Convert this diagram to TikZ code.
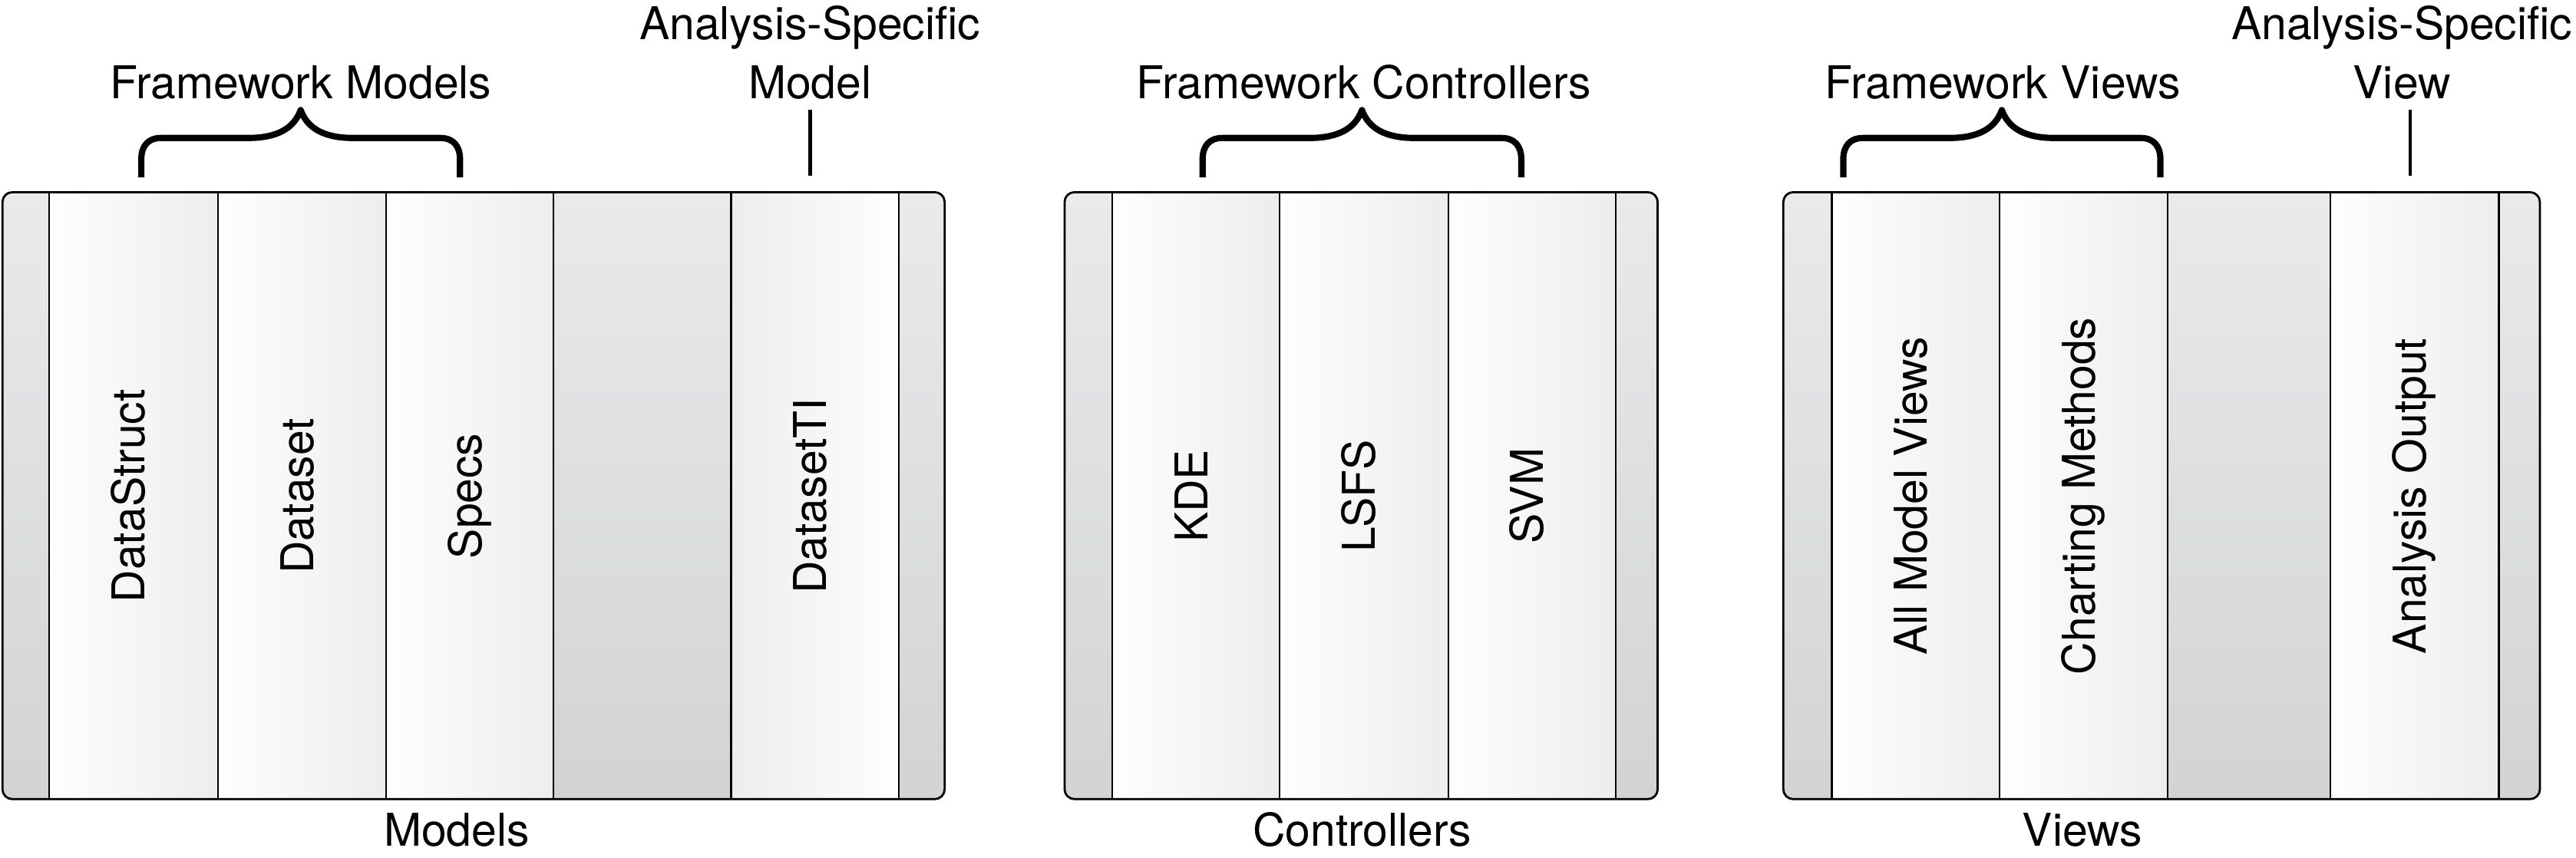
\documentclass[tikz,border=0pt]{standalone}
\usepackage{fontspec}
\setmainfont{TeX Gyre Heros}
\definecolor{stripTop}{HTML}{EAEAEB}
\definecolor{stripBot}{HTML}{D2D3D5}
\definecolor{colShade}{HTML}{EDEDEE}
\definecolor{colWhite}{HTML}{FEFEFE}
\begin{document}
\begin{tikzpicture}[x=1pt,y=-1pt,
  every node/.style={inner sep=0pt, outer sep=0pt, font=\fontsize{27.5}{36}\selectfont},
  strip/.style={top color=stripTop, bottom color=stripBot, draw=none},
  wcol/.style={left color=colWhite, right color=colShade, draw=none},
  wcolr/.style={left color=colShade, right color=colWhite, draw=none},
  divider/.style={line width=1pt, black},
  outerbox/.style={line width=1.3pt, black, rounded corners=6pt},
  bracepath/.style={line width=3.8pt, black, line cap=butt, line join=round},
  tickline/.style={line width=2.2pt, black},
  collabel/.style={rotate=90, anchor=base},
  toplabel/.style={anchor=base, align=center},
]
\path[use as bounding box] (0,0) rectangle (1568,522);

\newcommand\mybrace[3]{%
  \draw[bracepath] (#1,108) -- (#1,97) .. controls (#1,89) and (#1+4,84) .. (#1+12,84)
    -- (#3-32,84) .. controls (#3-14,84) and (#3-4,78) .. (#3,67)
    .. controls (#3+4,78) and (#3+14,84) .. (#3+32,84)
    -- (#2-12,84) .. controls (#2-4,84) and (#2,89) .. (#2,97) -- (#2,108);}

%%%%%%%%%%%%%%%% Models
\begin{scope}
  \clip[rounded corners=6pt] (1.5,117) rectangle (575,486.5);
  \shade[strip] (1.5,117) rectangle (30,486.5);
  \shade[wcol] (30,117) rectangle (132.5,486.5);
  \shade[wcol] (132.5,117) rectangle (235,486.5);
  \shade[wcol] (235,117) rectangle (337,486.5);
  \shade[strip] (337,117) rectangle (445,486.5);
  \shade[wcolr] (445,117) rectangle (547,486.5);
  \shade[strip] (547,117) rectangle (575,486.5);
\end{scope}
\foreach \xx in {30,132.5,235,337,445,547} \draw[divider] (\xx,117) -- (\xx,486.5);
\draw[outerbox] (1.5,117) rectangle (575,486.5);

\node[collabel] (datastruct) at (88.25,302) {DataStruct};
\node[collabel] (dataset) at (190.75,302) {Dataset};
\node[collabel] (specs) at (293,302) {Specs};
\node[collabel] (datasetti) at (503,302) {DatasetTI};

\node[toplabel] (fwmodels) at (183,60) {Framework Models};
\mybrace{86}{280}{183}
\node[toplabel] (asmodel) at (493,60) {Analysis-Specific\\Model};
\coordinate (amtop) at (493,67);
\coordinate (ambot) at (493,107);
\draw[tickline] (amtop) -- (ambot);
\node[anchor=base] (models) at (278,515) {Models};

%%%%%%%%%%%%%%%% Controllers
\begin{scope}
  \clip[rounded corners=6pt] (648,117) rectangle (1009,486.5);
  \shade[strip] (648,117) rectangle (677,486.5);
  \shade[wcol] (677,117) rectangle (779,486.5);
  \shade[wcol] (779,117) rectangle (881.5,486.5);
  \shade[wcol] (881.5,117) rectangle (983.5,486.5);
  \shade[strip] (983.5,117) rectangle (1009,486.5);
\end{scope}
\foreach \xx in {677,779,881.5,983.5} \draw[divider] (\xx,117) -- (\xx,486.5);
\draw[outerbox] (648,117) rectangle (1009,486.5);

\node[collabel] (kde) at (735,302) {KDE};
\node[collabel] (lsfs) at (837,302) {LSFS};
\node[collabel] (svm) at (939.5,302) {SVM};

\node[toplabel] (fwcontrollers) at (830,60) {Framework Controllers};
\mybrace{732}{926}{829}
\node[anchor=base] (controllers) at (829,515) {Controllers};

%%%%%%%%%%%%%%%% Views
\begin{scope}
  \clip[rounded corners=6pt] (1085.5,117) rectangle (1546,486.5);
  \shade[strip] (1085.5,117) rectangle (1115,486.5);
  \shade[wcol] (1115,117) rectangle (1217,486.5);
  \shade[wcol] (1217,117) rectangle (1319.5,486.5);
  \shade[strip] (1319.5,117) rectangle (1418.5,486.5);
  \shade[wcol] (1418.5,117) rectangle (1521,486.5);
  \shade[strip] (1521,117) rectangle (1546,486.5);
\end{scope}
\foreach \xx in {1115,1217,1319.5,1418.5,1521} \draw[divider] (\xx,117) -- (\xx,486.5);
\draw[outerbox] (1085.5,117) rectangle (1546,486.5);

\node[collabel] (allviews) at (1173,302) {All Model Views};
\node[collabel] (charting) at (1275.25,302) {Charting Methods};
\node[collabel] (anoutput) at (1476.75,302) {Analysis Output};

\node[toplabel] (fwviews) at (1219,60) {Framework Views};
\mybrace{1122}{1315}{1218.5}
\node[toplabel] (asview) at (1462,60) {Analysis-Specific\\View};
\coordinate (avtop) at (1467,67);
\coordinate (avbot) at (1467,107);
\draw[tickline] (avtop) -- (avbot);
\node[anchor=base] (views) at (1267.5,515) {Views};
\end{tikzpicture}
\end{document}
